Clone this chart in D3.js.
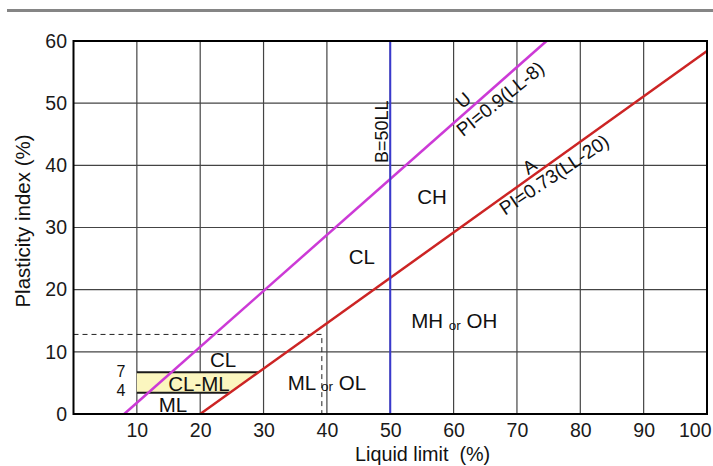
<!DOCTYPE html>
<html>
<head>
<meta charset="utf-8">
<script src="https://cdn.jsdelivr.net/npm/d3@7"></script>
<style>
  body { margin: 0; background: #fff; }
  svg { font-family: "Liberation Sans", Arial, sans-serif; }
</style>
</head>
<body>
<svg id="vis_chart" width="713" height="466"></svg>
<script>
// Plasticity chart (Casagrande) data

var xTicks = [10, 20, 30, 40, 50, 60, 70, 80, 90, 100];
var yTicks = [0, 10, 20, 30, 40, 50, 60];
var gridX = [10, 20, 30, 40, 50, 60, 70, 80, 90];
var gridY = [10, 20, 30, 40, 50];

// U-line PI = 0.9(LL-8), A-line PI = 0.73(LL-20), B-line LL = 50
var uLine = [[8, 0], [74.67, 60]];
var aLine = [[20, 0], [100, 58.4]];
var bLine = [[50, 0], [50, 60]];

// CL-ML band (PI 4..7 as drawn), from LL 10 to the A-line
var bandTop = 6.7;
var bandBottom = 3.4;
var bandLeft = 10;

// dashed guide
var guidePI = 12.8;
var guideLL = 39.2;

// zone labels [text, LL, PI]
var zoneLabels = [
  ["CL", 23.6, 8.7],
  ["CL-ML", 19.8, 4.9],
  ["ML", 15.7, 1.5],
  ["CL", 45.5, 25.3],
  ["CH", 56.6, 34.9]
];
var sideLabels = [["7", 7.5, 6.9], ["4", 7.5, 3.85]];
var orLabels = [["ML", "or", "OL", 40.0, 5.1], ["MH", "or", "OH", 60.1, 15.0]];

function vis_chart() {
var svg = d3.select("#vis_chart");

var x = d3.scaleLinear().domain([0, 100]).range([73.5, 707]);
var y = d3.scaleLinear().domain([0, 60]).range([414, 41]);

// gray rule on top
svg.append("line")
  .attr("x1", 7).attr("x2", 713).attr("y1", 10.5).attr("y2", 10.5)
  .attr("stroke", "#858585").attr("stroke-width", 3);

// grid
svg.append("g").selectAll("line").data(gridX).enter().append("line")
  .attr("x1", function(d) { return x(d); }).attr("x2", function(d) { return x(d); })
  .attr("y1", y(0)).attr("y2", y(60))
  .attr("stroke", "#444").attr("stroke-width", 1.2);
svg.append("g").selectAll("line").data(gridY).enter().append("line")
  .attr("y1", function(d) { return y(d); }).attr("y2", function(d) { return y(d); })
  .attr("x1", x(0)).attr("x2", x(100))
  .attr("stroke", "#444").attr("stroke-width", 1.2);

// CL-ML band
var aLL = function(pi) { return 20 + pi / 0.73; };
var band = [[bandLeft, bandBottom], [aLL(bandBottom), bandBottom], [aLL(bandTop), bandTop], [bandLeft, bandTop]];
svg.append("path")
  .attr("d", d3.line().x(function(d) { return x(d[0]); }).y(function(d) { return y(d[1]); })(band) + "Z")
  .attr("fill", "#fbf6bf");
svg.append("g").selectAll("line").data([bandTop, bandBottom]).enter().append("line")
  .attr("x1", x(bandLeft)).attr("x2", function(d) { return x(aLL(d)); })
  .attr("y1", function(d) { return y(d); }).attr("y2", function(d) { return y(d); })
  .attr("stroke", "#1a1a1a").attr("stroke-width", 2);

// dashed guide lines
svg.append("path")
  .attr("d", "M" + x(0) + "," + y(guidePI) + "H" + x(guideLL) + "V" + y(0))
  .attr("fill", "none").attr("stroke", "#222").attr("stroke-width", 1)
  .attr("stroke-dasharray", "5,4");

// U, A, B lines
var line = d3.line().x(function(d) { return x(d[0]); }).y(function(d) { return y(d[1]); });
svg.append("path").attr("d", line(uLine)).attr("stroke", "#cc3ad6").attr("stroke-width", 2.5).attr("fill", "none");
svg.append("path").attr("d", line(aLine)).attr("stroke", "#cc2424").attr("stroke-width", 2.5).attr("fill", "none");
svg.append("path").attr("d", line(bLine)).attr("stroke", "#3a3acc").attr("stroke-width", 2).attr("fill", "none");

// frame
svg.append("rect")
  .attr("x", x(0)).attr("y", y(60))
  .attr("width", x(100) - x(0)).attr("height", y(0) - y(60))
  .attr("fill", "none").attr("stroke", "#000").attr("stroke-width", 2);

// axes (labels only)
var xAxis = svg.append("g").attr("transform", "translate(0," + y(0) + ")")
  .call(d3.axisBottom(x).tickValues(xTicks).tickSize(0).tickPadding(9));
var yAxis = svg.append("g").attr("transform", "translate(" + x(0) + ",0)")
  .call(d3.axisLeft(y).tickValues(yTicks).tickSize(0).tickPadding(6.5));
[xAxis, yAxis].forEach(function(g) {
  g.select(".domain").remove();
  g.selectAll("text").attr("font-size", 19.5).attr("fill", "#1a1a1a")
    .attr("font-family", "'Liberation Sans', Arial, sans-serif");
});
// last x label sits inside the right edge
xAxis.selectAll(".tick text").filter(function(d) { return d === 100; })
  .attr("text-anchor", "end").attr("x", 4);

// axis titles
svg.append("text")
  .attr("x", 355).attr("y", 461)
  .attr("font-size", 19.8).attr("fill", "#111")
  .style("white-space", "pre")
  .text("Liquid limit  (%)");
svg.append("text")
  .attr("transform", "translate(30,221) rotate(-90)")
  .attr("text-anchor", "middle")
  .attr("font-size", 20.5).attr("fill", "#111")
  .text("Plasticity index (%)");

// zone labels
svg.append("g").selectAll("text").data(zoneLabels).enter().append("text")
  .attr("x", function(d) { return x(d[1]); }).attr("y", function(d) { return y(d[2]); })
  .attr("dy", "0.36em").attr("text-anchor", "middle")
  .attr("font-size", 20.5).attr("fill", "#111")
  .text(function(d) { return d[0]; });
svg.append("g").selectAll("text").data(sideLabels).enter().append("text")
  .attr("x", function(d) { return x(d[1]); }).attr("y", function(d) { return y(d[2]); })
  .attr("dy", "0.36em").attr("text-anchor", "middle")
  .attr("font-size", 16).attr("fill", "#111")
  .text(function(d) { return d[0]; });

var ors = svg.append("g").selectAll("text").data(orLabels).enter().append("text")
  .attr("x", function(d) { return x(d[3]); }).attr("y", function(d) { return y(d[4]); })
  .attr("dy", "0.36em").attr("text-anchor", "middle")
  .attr("font-size", 20.5).attr("fill", "#111");
ors.append("tspan").text(function(d) { return d[0] + " "; });
ors.append("tspan").attr("font-size", 13.5).attr("dy", 1.5).text(function(d) { return d[1]; });
ors.append("tspan").attr("dy", -1.5).text(function(d) { return " " + d[2]; });

// line labels
svg.append("text")
  .attr("transform", "translate(" + x(49.65) + "," + y(45.4) + ") rotate(-90)")
  .attr("text-anchor", "middle").attr("font-size", 18).attr("fill", "#111")
  .text("B=50LL");
svg.append("text")
  .attr("transform", "translate(" + x(61.4) + "," + y(49.0) + ") rotate(-41.5)")
  .attr("font-size", 18.5).attr("fill", "#111").text("U");
svg.append("text")
  .attr("transform", "translate(" + x(61.5) + "," + y(44.5) + ") rotate(-39)")
  .attr("font-size", 19).attr("fill", "#111").text("PI=0.9(LL-8)");
svg.append("text")
  .attr("transform", "translate(" + x(71.8) + "," + y(38.4) + ") rotate(-35.6)")
  .attr("font-size", 18.5).attr("fill", "#111").text("A");
svg.append("text")
  .attr("transform", "translate(" + x(68.1) + "," + y(31.9) + ") rotate(-34)")
  .attr("font-size", 19).attr("fill", "#111").text("PI=0.73(LL-20)");

} // end vis_chart

vis_chart();
</script>
</body>
</html>
